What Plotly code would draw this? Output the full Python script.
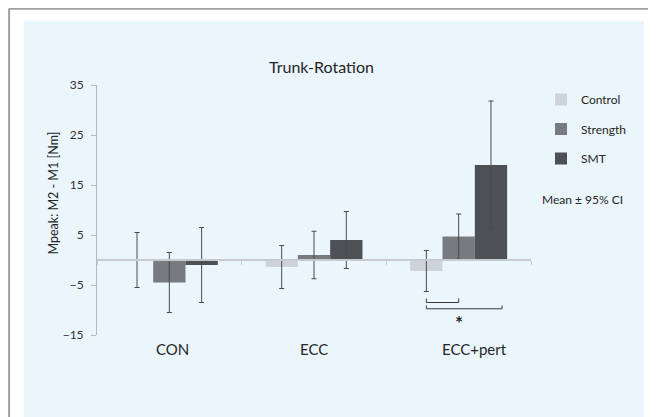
import plotly.graph_objects as go

categories = ["CON", "ECC", "ECC+pert"]
groups = ["Control", "Strength", "SMT"]
means = {
    "Control": [0.0, -1.4, -2.2],
    "Strength": [-4.5, 1.0, 4.7],
    "SMT": [-1.0, 4.0, 19.0],
}
ci95 = {
    "Control": [5.5, 4.3, 4.1],
    "Strength": [6.0, 4.75, 4.5],
    "SMT": [7.5, 5.7, 12.8],
}
y_ticks = [-15, -5, 5, 15, 25, 35]

colors = {"Control": "#cdd3d8", "Strength": "#777b7f", "SMT": "#4d5155"}
FONT = "Lato, 'Open Sans', sans-serif"

W, H = 656, 417
OFF = 8  # page body margin offset
L, R, T, B = 96.5 - OFF, 125 + OFF, 85 - OFF, 82 + OFF
pw, ph = W - L - R, H - T - B


def px_x(p):
    return (p - OFF - L) / pw


def px_y(p):
    return (H - B - (p - OFF)) / ph


fig = go.Figure()
for i, g in enumerate(groups):
    fig.add_trace(go.Bar(
        name=g, x=categories, y=means[g],
        marker=dict(color=colors[g], line=dict(width=0)),
        error_y=dict(type="data", array=ci95[g], visible=True,
                     color="#4a4a4a", thickness=1, width=2.5),
        legendgroup=g,
    ))

shapes = [
    # light-blue panel
    dict(type="rect", xref="paper", yref="paper", layer="below",
         x0=px_x(23), x1=px_x(644), y0=px_y(H + 20), y1=px_y(21),
         fillcolor="#ebf5fc", line=dict(width=0)),
    # outer frame (left and top)
    dict(type="line", xref="paper", yref="paper", layer="below",
         x0=px_x(8.5), x1=px_x(8.5), y0=px_y(H + 20), y1=px_y(8.5),
         line=dict(color="#a0a0a0", width=2)),
    dict(type="line", xref="paper", yref="paper", layer="below",
         x0=px_x(8.5), x1=px_x(W + 20), y0=px_y(8.8), y1=px_y(8.8),
         line=dict(color="#a0a0a0", width=2)),
]

# significance brackets (ECC+pert): Control vs Strength, Control vs SMT
off = 0.2233
bcol = "#3a3a3a"
for (xa, xb, yb, ytop) in [(2 - off, 2.0, -8.5, -7.7), (2 - off, 2.3, -9.75, -9.1)]:
    shapes.append(dict(type="path", xref="x", yref="y",
                       path=f"M {xa},{ytop} L {xa},{yb} L {xb},{yb} L {xb},{ytop}",
                       line=dict(color=bcol, width=1)))

TXT = "#262626"
annotations = [
    dict(text="Trunk-Rotation", x=px_x(321), y=px_y(67), xref="paper", yref="paper",
         xanchor="center", yanchor="middle",
         showarrow=False, font=dict(family=FONT, size=16, color=TXT)),
    dict(text="Mpeak: M2 - M1 [Nm]", x=px_x(52), y=px_y(193), xref="paper", yref="paper",
         xanchor="center", yanchor="middle",
         textangle=-90, showarrow=False, font=dict(family=FONT, size=12.5, color=TXT)),
    dict(text="Mean ± 95% CI", x=px_x(583), y=px_y(199), xref="paper", yref="paper",
         xanchor="center", yanchor="middle",
         showarrow=False, font=dict(family=FONT, size=12, color=TXT)),
    dict(text="<b>*</b>", x=2.0, y=px_y(322), xref="x", yref="paper",
         xanchor="center", yanchor="middle", showarrow=False,
         font=dict(family=FONT, size=19, color=TXT)),
]
label_shift = [0.025, 0.0, 0.11]
for i, c in enumerate(categories):
    annotations.append(dict(text=c, x=i + label_shift[i], y=px_y(349), xref="x", yref="paper",
                            xanchor="center", yanchor="middle",
                            showarrow=False, font=dict(family=FONT, size=15, color=TXT)))

fig.update_layout(
    width=W, height=H,
    margin=dict(l=L, r=R, t=T, b=B),
    paper_bgcolor="white", plot_bgcolor="rgba(0,0,0,0)",
    barmode="group", bargap=0.33, bargroupgap=0,
    showlegend=True,
    legend=dict(x=px_x(541), y=px_y(85), xanchor="left", yanchor="top",
                bgcolor="rgba(0,0,0,0)", tracegroupgap=10.5,
                font=dict(family=FONT, size=12, color=TXT)),
    xaxis=dict(type="category", range=[-0.5, 2.5], anchor="free", position=0.3,
               showline=True, linecolor="#c5cbd0", linewidth=1.5,
               ticks="outside", tickson="boundaries", ticklen=4, tickcolor="#c5cbd0",
               showticklabels=False, showgrid=False, zeroline=False, fixedrange=True),
    yaxis=dict(range=[-15, 35], tickvals=y_ticks, showline=True, linecolor="#b4b9bd",
               linewidth=1, ticks="outside", ticklen=5, tickcolor="#b4b9bd",
               ticklabelstandoff=5,
               showgrid=False, zeroline=False,
               tickfont=dict(family=FONT, size=12, color="#333333")),
    shapes=shapes, annotations=annotations,
)

fig.write_html("out.html")
